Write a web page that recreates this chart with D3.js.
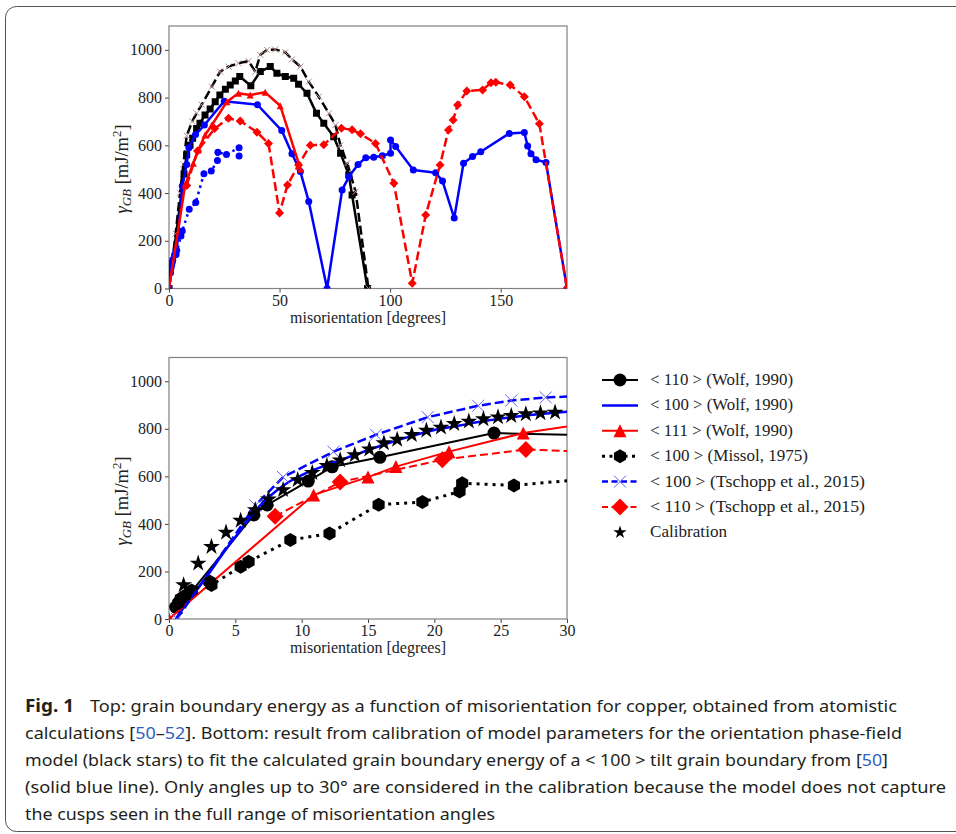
<!DOCTYPE html>
<html>
<head>
<meta charset="utf-8">
<script src="https://cdn.jsdelivr.net/npm/d3@7"></script>
<style>
  body { margin: 0; background: #fff; }
  text { font-family: "Liberation Serif", serif; }
</style>
</head>
<body>
<script>
const width = 956;
const height = 834;

// ---- top panel data: [misorientation deg, energy mJ/m2] ----
const top110Sq = [[0,0],[6.8,480],[8,560],[9.5,600],[10.7,630],[12.5,671],[14,693],[16.3,727],[18.6,752],[20.9,783],[23,811],[25.5,835],[27.7,853],[30,870],[32,888],[37,850],[41.3,909],[45.8,930],[48.8,902],[52.6,888],[56.4,881],[58.6,856],[62.4,818],[66.7,734],[70,692],[74.5,636],[77.6,567],[81.3,476],[82.8,392],[89.8,0]];
const top110X = [[0,0],[3,230],[5,400],[6.5,520],[8,640],[10.5,700],[12.5,735],[14.8,770],[19.4,846],[23.1,909],[26.9,930],[31.4,944],[36,953],[39,909],[41.3,979],[44.3,1000],[48,1002],[52.6,990],[55.6,960],[59.4,930],[63.2,867],[67.7,804],[72.3,734],[75.3,685],[77.5,601],[80.6,525],[84.4,406],[90.2,0]];
const top100 = [[0,0],[1.5,110],[2.5,140],[3.5,160],[6,430],[8,520],[9,590],[12,645],[16,685],[25,785],[40,770],[51,662],[55.6,565],[59.4,490],[63.2,365],[71.5,0],[78.3,413],[81.4,469],[85.5,520],[89,548],[92.6,550],[96.5,556],[100.2,567],[100.2,622],[102.5,595],[110.5,497],[120.6,485],[123.7,450],[129,295],[133.2,525],[137.3,553],[141,573],[153.9,650],[160.7,654],[162.2,597],[163.7,565],[166,540],[170.5,528],[180,0]];
const top111 = [[0,0],[7.3,434],[11,525],[13.3,580],[16.3,643],[19.4,685],[26.2,783],[31.4,818],[36.7,811],[43.5,822],[50.3,766],[59.5,500]];
const tschopp110 = [[8,432],[12.9,576],[20.6,670],[26.9,713],[32.2,702],[39.8,655],[45,608],[50,316],[53.6,434],[58.6,518],[63.9,600],[70,602],[78,672],[82.8,665],[86.6,648],[93.4,608],[101.7,441],[110,22],[116.1,308],[122.6,518],[126.4,664],[128.5,706],[130.5,769],[134.7,828],[141.8,832],[145.6,862],[147.8,864],[154.3,853],[160.7,804],[167.5,690],[180,0]];
const missol100 = [[0.7,66],[0.9,86],[1.2,98],[1.7,120],[3.1,157],[3.2,143],[5.4,220],[6,241],[9.15,332],[12.1,360],[15.8,481],[19.1,492],[21.9,536],[22.1,571],[26,562],[31.7,590],[31.7,555]];

// ---- bottom panel data ----
const wolf110 = [[0.5,50],[0.8,75],[1.2,95],[1.7,115],[6.4,438],[7.4,480],[10.5,580],[12.3,640],[15.9,680],[24.5,782],[32,772]];
const wolf100 = [[0.5,0],[1,40],[2,115],[3,190],[4,270],[5,345],[6,420],[7,485],[8,535],[9,575],[10,605],[12,650],[14,690],[16,730],[18,765],[20,795],[22,815],[24,835],[26,850],[28,862],[30,872]];
const wolf111 = [[0,0],[10.9,522],[15,597],[17.1,641],[21.1,704],[26.7,782],[33,835]];
const tschopp100 = [[0.6,0],[6.5,478],[8.6,597],[12.4,704],[15.6,775],[19.5,849],[23.3,897],[25.8,919],[28.4,932],[32,940]];
const calibration = [[1.1,143],[2.2,234],[3.2,304],[4.3,364],[5.4,414],[6.5,459],[7.5,504],[8.6,543],[9.7,585],[10.8,615],[11.9,645],[12.9,668],[14,690],[15.1,714],[16.2,740],[17.2,755],[18.3,775],[19.4,793],[20.5,806],[21.5,821],[22.6,831],[23.7,841],[24.8,849],[25.8,855],[26.9,862],[28,866],[29.1,869]];

const yTicks = [0,200,400,600,800,1000];
const xTicksTop = [0,50,100,150];
const xTicksBottom = [0,5,10,15,20,25,30];

const legendLabels = ["< 110 > (Wolf, 1990)","< 100 > (Wolf, 1990)","< 111 > (Wolf, 1990)","< 100 > (Missol, 1975)","< 100 > (Tschopp et al., 2015)","< 110 > (Tschopp et al., 2015)","Calibration"];
const legendWidths = [143,143,143,158,215,215,77];

const svg = d3.select("body").append("svg")
    .attr("width", width)
    .attr("height", height)
    .style("background-color", "white");

// outer frame of the figure box
svg.append("rect")
    .attr("x", 5.5).attr("y", 6.5)
    .attr("width", 1000).attr("height", 825)
    .attr("rx", 11)
    .attr("fill", "none")
    .attr("stroke", "#555")
    .attr("stroke-width", 1);

// marker shapes
function markerPath(type, s) {
    const r = s / 2;
    switch (type) {
        case "circle": return d3.symbol(d3.symbolCircle, Math.PI * r * r)();
        case "square": return `M${-r},${-r}H${r}V${r}H${-r}Z`;
        case "triangle": return `M0,${-r}L${r},${r}L${-r},${r}Z`;
        case "diamond": return `M0,${-r}L${r},0L0,${r}L${-r},0Z`;
        case "hex": {
            const pts = d3.range(6).map(k => {
                const a = -Math.PI / 2 + k * Math.PI / 3;
                return [r * Math.cos(a), r * Math.sin(a)];
            });
            return "M" + pts.join("L") + "Z";
        }
        case "x": return `M${-r},${-r}L${r},${r}M${-r},${r}L${r},${-r}`;
        case "star": return d3.symbol(d3.symbolStar, s * s * 0.45)();
    }
}

function panel(x, y, clipId, yMid, xLabelY) {
    const g = svg.append("g");
    g.append("clipPath").attr("id", clipId)
        .append("rect")
        .attr("x", x.range()[0]).attr("y", y.range()[1])
        .attr("width", x.range()[1] - x.range()[0])
        .attr("height", y.range()[0] - y.range()[1]);

    const ya = g.append("g")
        .attr("transform", `translate(${x.range()[0]},0)`)
        .call(d3.axisLeft(y).tickValues(yTicks).tickFormat(d3.format("d")).tickSize(4).tickPadding(3));
    const xa = g.append("g")
        .attr("transform", `translate(0,${y.range()[0]})`)
        .call(d3.axisBottom(x).tickValues(x.domain()[1] > 100 ? xTicksTop : xTicksBottom).tickSize(4).tickPadding(2));
    [ya, xa].forEach(a => {
        a.select(".domain").remove();
        a.selectAll("line").attr("stroke", "#444");
        a.selectAll("text")
            .style("font-family", "Liberation Serif, serif")
            .style("font-size", "16px")
            .attr("fill", "#222");
    });

    g.append("rect")
        .attr("x", x.range()[0]).attr("y", y.range()[1])
        .attr("width", x.range()[1] - x.range()[0])
        .attr("height", y.range()[0] - y.range()[1])
        .attr("fill", "none")
        .attr("stroke", "#808080")
        .attr("stroke-width", 1.2);

    g.append("text")
        .attr("x", (x.range()[0] + x.range()[1]) / 2)
        .attr("y", xLabelY)
        .attr("text-anchor", "middle")
        .style("font-size", "16px")
        .attr("fill", "#222")
        .text("misorientation [degrees]");

    const yl = g.append("text")
        .attr("transform", `translate(128,${yMid}) rotate(-90)`)
        .attr("text-anchor", "middle")
        .style("font-size", "18.5px")
        .attr("fill", "#222");
    yl.append("tspan").style("font-style", "italic").text("γ");
    yl.append("tspan").style("font-style", "italic").style("font-size", "13px").attr("dy", 3).text("GB");
    yl.append("tspan").attr("dy", -3).text(" [mJ/m");
    yl.append("tspan").style("font-size", "13px").attr("dy", -7).text("2");
    yl.append("tspan").attr("dy", 7).text("]");

    const plot = g.append("g").attr("clip-path", `url(#${clipId})`);
    return plot;
}

function series(plot, x, y, data, o) {
    const line = d3.line().x(d => x(d[0])).y(d => y(d[1]));
    if (o.curve) line.curve(o.curve);
    if (o.lw) {
        plot.append("path")
            .datum(data)
            .attr("d", line)
            .attr("fill", "none")
            .attr("stroke", o.color)
            .attr("stroke-width", o.lw)
            .attr("stroke-linejoin", "round")
            .attr("stroke-dasharray", o.dash || null);
    }
    if (o.marker) {
        plot.selectAll(null)
            .data(data)
            .enter().append("path")
            .attr("transform", d => `translate(${x(d[0])},${y(d[1])})`)
            .attr("d", markerPath(o.marker, o.ms))
            .attr("fill", o.marker === "x" ? "none" : (o.mfill || o.color))
            .attr("stroke", o.mstroke || "none")
            .attr("stroke-width", o.mlw || 1);
    }
}

// ---- top panel ----
const xTop = d3.scaleLinear().domain([0, 180]).range([169, 567]);
const yTop = d3.scaleLinear().domain([0, 1100]).range([288.5, 26]);
const pTop = panel(xTop, yTop, "clipTop", 169, 323);

series(pTop, xTop, yTop, top110Sq, {color: "black", lw: 2.5, marker: "square", ms: 7});
series(pTop, xTop, yTop, top110X, {color: "black", lw: 2.5, dash: "9,4", marker: "x", ms: 6, mstroke: "#b48a8a", mlw: 1});
series(pTop, xTop, yTop, top100, {color: "#0000ff", lw: 2.5, marker: "circle", ms: 7});
series(pTop, xTop, yTop, missol100, {color: "#0000ff", lw: 2.5, dash: "2.5,4", marker: "circle", ms: 7});
series(pTop, xTop, yTop, top111, {color: "#ff0000", lw: 2.5, marker: "triangle", ms: 7});
series(pTop, xTop, yTop, tschopp110, {color: "#ff0000", lw: 2.5, dash: "9,4", marker: "diamond", ms: 9});

// ---- bottom panel ----
const xBot = d3.scaleLinear().domain([0, 30]).range([169, 567]);
const yBot = d3.scaleLinear().domain([0, 1100]).range([619, 357.5]);
const pBot = panel(xBot, yBot, "clipBot", 501, 653);

const botStyles = [
    {data: wolf110, color: "black", lw: 2, marker: "circle", ms: 13},
    {data: wolf100, color: "#0000ff", lw: 2.5, curve: d3.curveMonotoneX},
    {data: wolf111, color: "#ff0000", lw: 2, marker: "triangle", ms: 13},
    {data: missol100, color: "black", lw: 3, dash: "3,5", marker: "hex", ms: 14},
    {data: tschopp100, color: "#0000ff", lw: 2.5, dash: "9,4", marker: "x", ms: 12, mstroke: "#6060ff", mlw: 1},
    {data: tschopp110, color: "#ff0000", lw: 2, dash: "8,4", marker: "diamond", ms: 17},
    {data: calibration, color: "black", marker: "star", ms: 14}
];
botStyles.forEach(s => series(pBot, xBot, yBot, s.data, s));

// ---- legend ----
const leg = svg.append("g");
botStyles.forEach((s, i) => {
    const cy = 380 + i * 25.4;
    const row = leg.append("g").attr("transform", `translate(0,${cy})`);
    if (s.lw) {
        row.append("line")
            .attr("x1", 602).attr("x2", 638)
            .attr("stroke", s.color)
            .attr("stroke-width", s.lw)
            .attr("stroke-dasharray", s.dash ? (s.dash === "3,5" ? "3,4.5" : "6,3.5") : null);
    }
    if (s.marker) {
        row.append("path")
            .attr("transform", "translate(620,0)")
            .attr("d", markerPath(s.marker, s.marker === "star" ? 11 : s.ms))
            .attr("fill", s.marker === "x" ? "none" : s.color)
            .attr("stroke", s.mstroke || "none")
            .attr("stroke-width", s.mlw || 1);
    }
    row.append("text")
        .attr("x", 650).attr("y", 5)
        .style("font-size", "16.5px")
        .attr("textLength", legendWidths[i])
        .attr("lengthAdjust", "spacingAndGlyphs")
        .attr("fill", "#222")
        .text(legendLabels[i]);
});

// ---- caption ----
const cap = svg.append("g")
    .style("font-family", "'Noto Sans', sans-serif")
    .style("font-size", "17px")
    .attr("fill", "#231f20");
cap.append("text").attr("x", 25).attr("y", 712)
    .style("font-family", "'Noto Sans', sans-serif")
    .style("font-weight", "bold")
    .attr("textLength", 49).attr("lengthAdjust", "spacingAndGlyphs")
    .text("Fig. 1");

const capLines = [
    {x: 90, y: 712, w: 807, parts: [["Top: grain boundary energy as a function of misorientation for copper, obtained from atomistic"]]},
    {x: 25, y: 739, w: 877, parts: [["calculations ["], ["50", true], ["–"], ["52", true], ["]. Bottom: result from calibration of model parameters for the orientation phase-field"]]},
    {x: 25, y: 766, w: 863, parts: [["model (black stars) to fit the calculated grain boundary energy of a < 100 > tilt grain boundary from ["], ["50", true], ["]"]]},
    {x: 25, y: 793, w: 921, parts: [["(solid blue line). Only angles up to 30° are considered in the calibration because the model does not capture"]]},
    {x: 25, y: 820, w: 470, parts: [["the cusps seen in the full range of misorientation angles"]]}
];
capLines.forEach(l => {
    const t = cap.append("text")
        .attr("x", l.x).attr("y", l.y)
        .style("font-family", "'Noto Sans', sans-serif")
        .attr("textLength", l.w)
        .attr("lengthAdjust", "spacingAndGlyphs");
    l.parts.forEach(p => {
        t.append("tspan").attr("fill", p[1] ? "#2f5fc0" : "#231f20").text(p[0]);
    });
});
</script>
</body>
</html>
